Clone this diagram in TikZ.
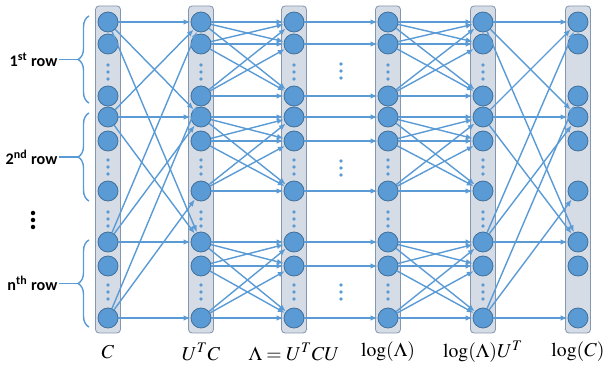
\documentclass[tikz,border=0pt]{standalone}
\usepackage{fontspec}
\usepackage{mathptmx}
\newfontfamily\rowfont{Carlito}
\usetikzlibrary{arrows.meta,decorations.pathreplacing}
\definecolor{nodeblue}{RGB}{91,155,213}
\definecolor{nodeedge}{RGB}{65,113,156}
\definecolor{barfill}{RGB}{214,220,229}
\definecolor{baredge}{RGB}{132,151,176}

\begin{document}
\begin{tikzpicture}[x=0.025cm, y=-0.025cm,
    unit/.style={circle, fill=nodeblue, draw=nodeedge, line width=0.6pt, minimum size=0.5cm, inner sep=0pt},
    bar/.style={fill=barfill, draw=baredge, line width=0.6pt, rounded corners=2.5pt},
    link/.style={draw=nodeblue, line width=1pt, -{Latex[length=5pt,width=4pt]}},
    brace/.style={draw=nodeblue, line width=1pt, decorate, decoration={brace, amplitude=7.8pt}},
    rowlabel/.style={font=\rowfont\bfseries\fontsize{11.5}{13}\selectfont, anchor=east, inner sep=1pt},
    collabel/.style={font=\fontsize{14}{16}\selectfont, inner sep=0pt}]
  \useasboundingbox (0,0) rectangle (606,373);

  % the six layers
  \foreach \c/\x in {1/108,2/201,3/294,4/388,5/483,6/578} {
    \draw[bar] (\x-12.5,6) rectangle (\x+12.5,333);
    \foreach \k/\y in {1/22,2/44,3/96,4/117,5/141,6/191,7/242,8/266,9/318}
      \node[unit] (c\c-\k) at (\x,\y) {};
  }
  % dots inside the layers
  \foreach \x in {108,201,294,388,483}
    \foreach \y in {72,167,219,292}
      \foreach \d in {-7,0,7}
        \fill[nodeblue] (\x,\y+\d) circle (1.3pt);
  \foreach \y in {71,168,292}
    \foreach \d in {-7,0,7}
      \fill[nodeblue] (341,\y+\d) circle (1.3pt);

  % mixing across rows
  \foreach \a/\b in {1/2,5/6} {
    \foreach \i in {1,4,7}
      \foreach \j in {1,4,7}
        \draw[link] (c\a-\i) -- (c\b-\j);
    \foreach \j in {3,6,9}
      \draw[link] (c\a-9) -- (c\b-\j);
  }
  % mixing inside a row
  \foreach \a/\b in {2/3,4/5}
    \foreach \p/\q/\s in {1/2/3,4/5/6,7/8/9}
      \foreach \i in {\p,\q,\s}
        \foreach \j in {\p,\q,\s}
          \draw[link] (c\a-\i) -- (c\b-\j);
  % element-wise log
  \foreach \k in {1,...,9}
    \draw[link] (c3-\k) -- (c4-\k);

  % rows of C
  \draw[brace] (89,103) -- (89,16);
  \draw[brace] (89,201) -- (89,113);
  \draw[brace] (89,327) -- (89,240);
  \coordinate (tip1) at (78,59.5);
  \coordinate (tip2) at (78,157);
  \coordinate (tip3) at (78,283.5);
  \node[rowlabel] (row1) at (59,59.5) {1\textsuperscript{st} row};
  \node[rowlabel] (row2) at (59,157) {2\textsuperscript{nd} row};
  \node[rowlabel] (rown) at (59,283.5) {n\textsuperscript{th} row};
  \draw[nodeblue, line width=1pt] (row1) -- (tip1);
  \draw[nodeblue, line width=1pt] (row2) -- (tip2);
  \draw[nodeblue, line width=1pt] (rown) -- (tip3);
  \foreach \y in {213,220,227}
    \fill[black] (33,\y) circle (1.6pt);

  % layer names
  \node[collabel] (lab1) at (108,352) {$C$};
  \node[collabel] (lab2) at (201,352) {$U^T C$};
  \node[collabel] (lab3) at (294,352) {$\Lambda = U^T C U$};
  \node[collabel] (lab4) at (388,352) {$\log(\Lambda)$};
  \node[collabel] (lab5) at (483,352) {$\log(\Lambda) U^T$};
  \node[collabel] (lab6) at (578,352) {$\log(C)$};
\end{tikzpicture}
\end{document}
